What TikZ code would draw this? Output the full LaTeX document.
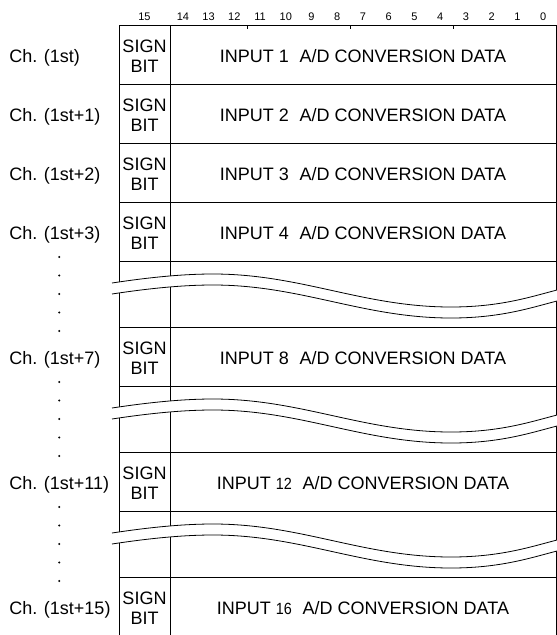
\documentclass[tikz,border=0pt]{standalone}
\usepackage{fontspec}
\setmainfont{Liberation Sans}
\newcommand\smalldig[1]{\scalebox{0.8}[0.9]{#1}}
\tikzset{
  gridline/.style={line width=0.8pt, black},
  big/.style={font=\fontsize{18}{20}\selectfont, inner sep=0pt, outer sep=0pt},
  bitnum/.style={font=\fontsize{11}{12}\selectfont, inner sep=0pt, anchor=center},
  chlabel/.style={big, anchor=base west},
  datalabel/.style={big, anchor=base},
  signlabel/.style={big, anchor=base},
  dotmark/.style={fill=black, circle, inner sep=0pt, minimum size=2.2pt},
  wave/.style={line width=0.8pt, black},
}
\begin{document}
\begin{tikzpicture}[x=1pt, y=-1pt]
\useasboundingbox (0,0) rectangle (557,635);

% grid frame
\coordinate (tl) at (119,25);
\coordinate (tm) at (170,25);
\coordinate (tr) at (556,25);
\coordinate (bl) at (119,635);
\coordinate (bm) at (170,635);
\coordinate (br) at (556,635);
\draw[gridline] (tl) -- (bl);
\draw[gridline] (tm) -- (bm);
\draw[gridline] (tr) -- (br);
\foreach \y [count=\i] in {25,84,143,202,261,327,386,452,511,577} {
  \coordinate (hl\i) at (119,\y);
  \coordinate (hr\i) at (556,\y);
  \draw[gridline] (hl\i) -- (hr\i);
}
% ticks on top line
\foreach \x [count=\i] in {247.2,350.1,453.0} {
  \coordinate (tka\i) at (\x,25);
  \coordinate (tkb\i) at (\x,28.5);
  \draw[gridline] (tka\i) -- (tkb\i);
}

% bit numbers
\node[bitnum] (b15) at (144.5,17) {15};
\foreach \b in {0,...,14} {
  \node[bitnum] (b\b) at ({556-(\b+0.5)*25.733},17) {\b};
}

% wavy breaks
\foreach \y in {261,386,511} {
  \fill[white] (112,\y+22) .. controls (145,\y+17) and (180,\y+13) .. (213,\y+13)
     .. controls (301,\y+13) and (363,\y+46) .. (451,\y+46)
     .. controls (500,\y+46) and (530,\y+36) .. (557,\y+29)
     -- (557,\y+40)
     .. controls (530,\y+47) and (500,\y+57) .. (451,\y+57)
     .. controls (363,\y+57) and (301,\y+24) .. (213,\y+24)
     .. controls (180,\y+24) and (145,\y+28) .. (112,\y+33) -- cycle;
  \draw[wave] (112,\y+22) .. controls (145,\y+17) and (180,\y+13) .. (213,\y+13)
     .. controls (301,\y+13) and (363,\y+46) .. (451,\y+46)
     .. controls (500,\y+46) and (530,\y+36) .. (557,\y+29);
  \draw[wave] (112,\y+33) .. controls (145,\y+28) and (180,\y+24) .. (213,\y+24)
     .. controls (301,\y+24) and (363,\y+57) .. (451,\y+57)
     .. controls (500,\y+57) and (530,\y+47) .. (557,\y+40);
}

% rows
\foreach \c/\ch/\num [count=\i] in {
  54.5/{1st}/{1},
  113.5/{1st+1}/{2},
  172.5/{1st+2}/{3},
  231.5/{1st+3}/{4},
  356.5/{1st+7}/{8},
  481.5/{1st+11}/{\smalldig{12}},
  606.5/{1st+15}/{\smalldig{16}}} {
  \node[chlabel] (ch\i) at (9.3,\c+8) {Ch. (\ch)};
  \node[signlabel] (sign\i) at (144.5,\c-2) {SIGN};
  \node[signlabel] (bit\i) at (144.5,\c+18) {BIT};
  \node[datalabel] (data\i) at (363,\c+8) {INPUT \num\hspace{0.6em}A/D CONVERSION DATA};
}

% dots
\foreach \r [count=\i] in {231.5,356.5,481.5} {
  \foreach \k in {0,...,4} {
    \node[dotmark] (dot\i\k) at (59.3,\r+25.5+18.5*\k) {};
  }
}
\end{tikzpicture}
\end{document}
